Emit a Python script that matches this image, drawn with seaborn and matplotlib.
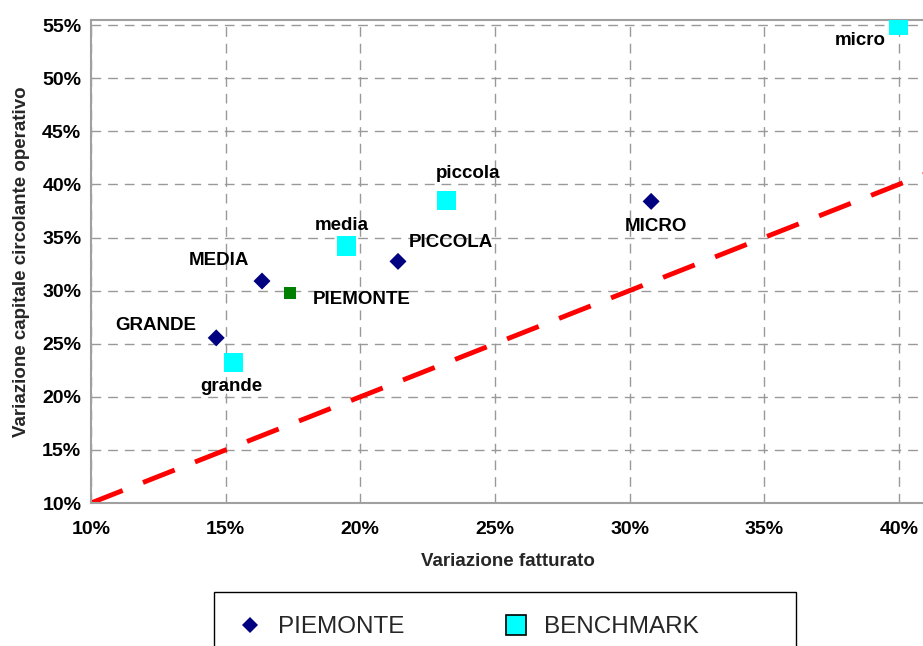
import matplotlib
matplotlib.use("Agg")
import matplotlib.pyplot as plt
import seaborn as sns
import pandas as pd
from matplotlib.lines import Line2D
from matplotlib.patches import Rectangle
from matplotlib.ticker import FuncFormatter

# ---- data (percent) ----
piemonte_labels = ["GRANDE", "MEDIA", "PICCOLA", "MICRO"]
piemonte_x = [14.65, 16.35, 21.4, 30.8]
piemonte_y = [25.55, 30.9, 32.75, 38.4]

total_label = "PIEMONTE"
total_x = [17.4]
total_y = [29.75]

bench_labels = ["grande", "media", "piccola", "micro"]
bench_x = [15.3, 19.5, 23.2, 40.0]
bench_y = [23.2, 34.2, 38.5, 55.0]

x_ticks = [10, 15, 20, 25, 30, 35, 40]
y_ticks = [10, 15, 20, 25, 30, 35, 40, 45, 50, 55]

# label offsets in pixels (style)
piemonte_off = [(-20, 12, "right"), (-43, 21, "center"), (11, 19, "left"), (5, -25, "center")]
total_off = (22, -6, "left")
bench_off = [(-2, -24, "center"), (-5, 20, "center"), (22, 27, "center"), (-39, -15, "center")]

sns.set_theme(style="white")
plt.rcParams["font.family"] = ["Liberation Sans", "DejaVu Sans"]

W, H = 923, 646
fig = plt.figure(figsize=(W / 100, H / 100), dpi=100)
ax = fig.add_axes([91 / W, (H - 503) / H, 834 / W, 483 / H])

xmin = 10
xmax = 10 + 834 / 26.93
ymin = 10
ymax = 10 + 483 / 10.62

df_p = pd.DataFrame({"x": piemonte_x, "y": piemonte_y, "lab": piemonte_labels})
df_t = pd.DataFrame({"x": total_x, "y": total_y})
df_b = pd.DataFrame({"x": bench_x, "y": bench_y, "lab": bench_labels})

ax.axline((xmin, ymin), slope=1, color="#ff0000", lw=3.5, dashes=(7, 4.5), zorder=2)

sns.scatterplot(data=df_b, x="x", y="y", ax=ax, marker="s", s=190, color="#00ffff",
                edgecolor="none", linewidth=0, zorder=3, legend=False)
sns.scatterplot(data=df_p, x="x", y="y", ax=ax, marker="D", s=75, color="#000080",
                edgecolor="none", linewidth=0, zorder=4, legend=False)
sns.scatterplot(data=df_t, x="x", y="y", ax=ax, marker="s", s=80, color="#008000",
                edgecolor="none", linewidth=0, zorder=4, legend=False)

LFS = 13.5
for (lx, ly, lab), (dx, dy, ha) in zip(zip(piemonte_x, piemonte_y, piemonte_labels), piemonte_off):
    ax.annotate(lab, (lx, ly), xytext=(dx, dy), textcoords="offset pixels", ha=ha, va="center",
                fontsize=LFS, fontweight="bold", color="black")
ax.annotate(total_label, (total_x[0], total_y[0]), xytext=total_off[:2], textcoords="offset pixels",
            ha=total_off[2], va="center", fontsize=LFS, fontweight="bold", color="black")
for (lx, ly, lab), (dx, dy, ha) in zip(zip(bench_x, bench_y, bench_labels), bench_off):
    ax.annotate(lab, (lx, ly), xytext=(dx, dy), textcoords="offset pixels", ha=ha, va="center",
                fontsize=LFS, fontweight="bold", color="black")

ax.set_xlim(xmin, xmax)
ax.set_ylim(ymin, ymax)
ax.set_xticks(x_ticks)
ax.set_yticks(y_ticks)
fmt = FuncFormatter(lambda v, p: f"{v:.0f}%")
ax.xaxis.set_major_formatter(fmt)
ax.yaxis.set_major_formatter(fmt)
ax.grid(True, color="#999999", linestyle=(0, (7, 5)), linewidth=1)
ax.set_axisbelow(True)
for side in ["left", "bottom", "top"]:
    ax.spines[side].set_visible(True)
    ax.spines[side].set_color("#a0a0a0")
    ax.spines[side].set_linewidth(1.5)
ax.spines["right"].set_visible(False)
ax.tick_params(axis="both", direction="in", length=0, labelsize=14, colors="black")
ax.tick_params(axis="y", pad=7)
ax.tick_params(axis="x", pad=13)
for t in ax.get_xticklabels() + ax.get_yticklabels():
    t.set_fontweight("bold")

ax.set_xlabel("Variazione fatturato", fontsize=13.5, fontweight="bold", labelpad=11)
ax.set_ylabel("Variazione capitale circolante operativo", fontsize=13.5, fontweight="bold", labelpad=9)

handles = [
    Line2D([], [], marker="D", color="#000080", linestyle="none", markersize=8, markeredgewidth=0),
    Line2D([], [], marker="s", markerfacecolor="#00ffff", markeredgecolor="black",
           linestyle="none", markersize=14, markeredgewidth=1.2),
]
fig.patches.append(Rectangle((214 / W, -10 / H), 582 / W, (54 + 10) / H, transform=fig.transFigure,
                             facecolor="white", edgecolor="black", linewidth=1.0, zorder=0))
leg = fig.legend(handles, ["PIEMONTE", "BENCHMARK"], loc="upper left",
                 bbox_to_anchor=(238 / W, 1 - 616 / H), ncol=2,
                 fontsize=17.5, frameon=False, borderpad=0, borderaxespad=0,
                 handlelength=1.0, handletextpad=0.65, columnspacing=4.1)

fig.savefig("out.png", dpi=100)
